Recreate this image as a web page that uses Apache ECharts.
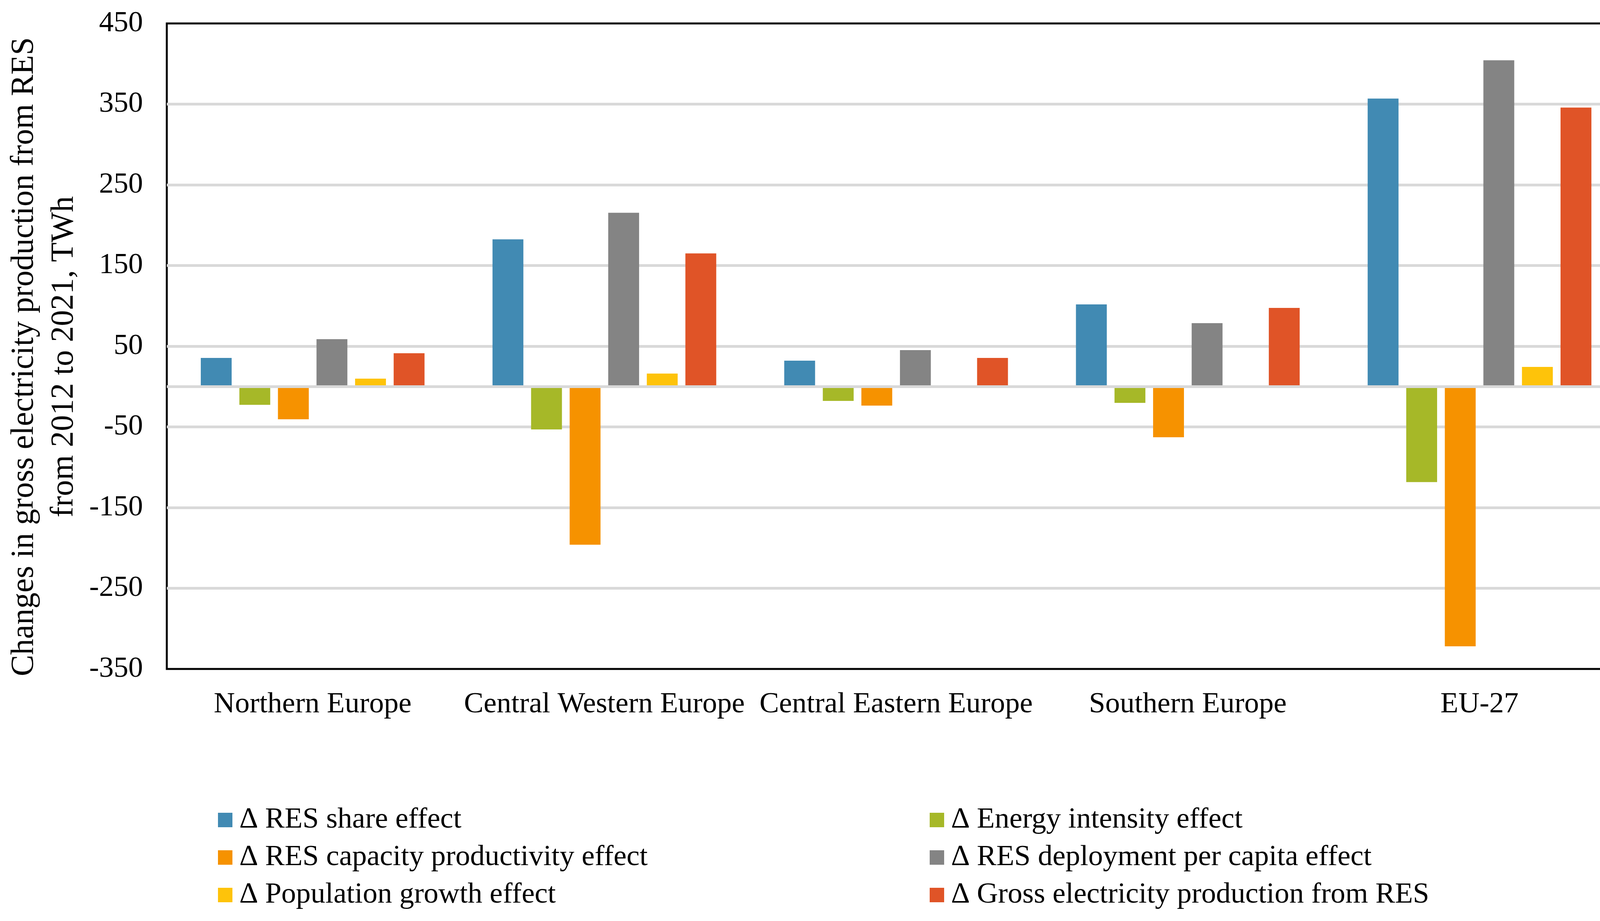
<!DOCTYPE html>
<html>
<head>
<meta charset="utf-8">
<script src="https://cdn.jsdelivr.net/npm/echarts@6/dist/echarts.min.js"></script>
<style>html,body{margin:0;padding:0;background:#fff;}#chart{width:4188px;height:2357px;}</style>
</head>
<body>
<div id="chart"></div>
<script>
var categories = ['Northern Europe', 'Central Western Europe', 'Central Eastern Europe', 'Southern Europe', 'EU-27'];
var seriesNames = ['\u2206 RES share effect', '\u2206 Energy intensity effect', '\u2206 RES capacity productivity effect', '\u2206 RES deployment per capita effect', '\u2206 Population growth effect', '\u2206 Gross electricity production from RES'];
var resShare = [35.5, 182.5, 32.1, 101.8, 356.9];
var energyIntensity = [-22.6, -53.1, -17.8, -20.2, -118.4];
var capacityProductivity = [-40.5, -196, -23.6, -62.8, -321.9];
var deploymentPerCapita = [58.7, 215.4, 45.2, 78.6, 404.4];
var populationGrowth = [9.8, 16.1, 0, 0, 24.3];
var grossProduction = [41.3, 165, 35.5, 97.4, 345.8];
var yMin = -350, yMax = 450, yStep = 100;
var colors = ['#418AB3', '#A6B828', '#F69200', '#848484', '#FEC30A', '#E05427'];

var allData = [resShare, energyIntensity, capacityProductivity, deploymentPerCapita, populationGrowth, grossProduction];
var font = 'Liberation Serif';

var chart = echarts.init(document.getElementById('chart'), null, {renderer: 'canvas'});
var series = allData.map(function (d, i) {
  var s = {
    name: seriesNames[i],
    type: 'bar',
    data: d,
    barWidth: 79,
    barGap: '25%',
    itemStyle: {color: colors[i]},
    emphasis: {disabled: true}
  };
  if (i === 0) {
    s.markLine = {
      silent: true,
      symbol: ['none', 'none'],
      label: {show: false},
      lineStyle: {color: '#D9D9D9', width: 7, type: 'solid'},
      data: [{yAxis: 0}],
      animation: false
    };
  }
  return s;
});

chart.setOption({
  animation: false,
  backgroundColor: '#fff',
  grid: {left: 427, right: 27, top: 60, bottom: 645, show: true, borderColor: '#000', borderWidth: 5, backgroundColor: 'transparent'},
  xAxis: {
    type: 'category',
    data: categories,
    axisLine: {show: false, onZero: false},
    axisTick: {show: false},
    axisLabel: {interval: 0, margin: 54, fontFamily: font, fontSize: 75, color: '#000'},
    splitLine: {show: false}
  },
  yAxis: {
    type: 'value',
    min: yMin,
    max: yMax,
    interval: yStep,
    axisLine: {show: false},
    axisTick: {show: false},
    axisLabel: {margin: 61, fontFamily: font, fontSize: 75, color: '#000'},
    splitLine: {show: true, showMinLine: false, showMaxLine: false, lineStyle: {color: '#D9D9D9', width: 7}}
  },
  legend: [
    {
      data: [seriesNames[0], seriesNames[2], seriesNames[4]],
      orient: 'vertical',
      left: 553, top: 2056,
      itemWidth: 37, itemHeight: 37, itemGap: 21,
      icon: 'rect',
      selectedMode: false,
      textStyle: {fontFamily: font, fontSize: 75, color: '#000', lineHeight: 75, padding: [0, 0, 0, 14]}
    },
    {
      data: [seriesNames[1], seriesNames[3], seriesNames[5]],
      orient: 'vertical',
      left: 2375, top: 2056,
      itemWidth: 37, itemHeight: 37, itemGap: 21,
      icon: 'rect',
      selectedMode: false,
      textStyle: {fontFamily: font, fontSize: 75, color: '#000', lineHeight: 75, padding: [0, 0, 0, 14]}
    }
  ],
  graphic: [{
    type: 'text',
    x: 113, y: 913,
    rotation: Math.PI / 2,
    style: {
      text: 'Changes in gross electricity production from RES\nfrom 2012 to 2021, TWh',
      fontFamily: font, fontSize: 82, lineHeight: 102,
      fill: '#000', align: 'center', verticalAlign: 'middle'
    }
  }],
  series: series
});
</script>
</body>
</html>
